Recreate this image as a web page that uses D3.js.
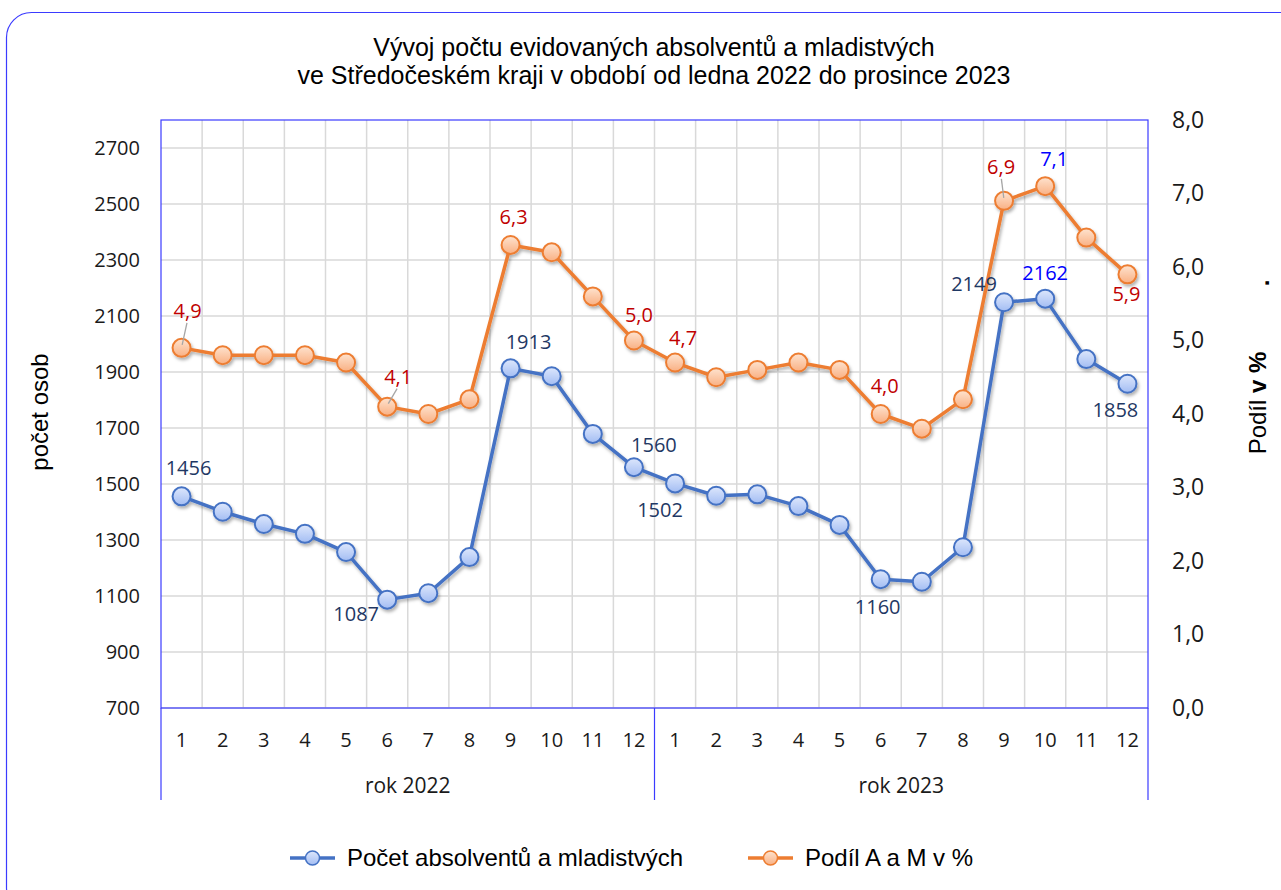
<!DOCTYPE html>
<html>
<head>
<meta charset="utf-8">
<script src="https://cdn.jsdelivr.net/npm/d3@7"></script>
<style>
  body { margin: 0; background: #fff; }
  svg { display: block; }
</style>
</head>
<body>
<div id="chart"></div>
<script>
// data
var months = [1,2,3,4,5,6,7,8,9,10,11,12, 1,2,3,4,5,6,7,8,9,10,11,12];
var years = ["rok 2022", "rok 2023"];
var pocet = [1456,1401,1357,1322,1257,1087,1110,1239,1913,1885,1679,1560,
             1502,1458,1463,1421,1354,1160,1151,1274,2149,2162,1946,1858];
var podil = [4.9,4.8,4.8,4.8,4.7,4.1,4.0,4.2,6.3,6.2,5.6,5.0,
             4.7,4.5,4.6,4.7,4.6,4.0,3.8,4.2,6.9,7.1,6.4,5.9];
var leftTicks = [700,900,1100,1300,1500,1700,1900,2100,2300,2500,2700];
var rightTicks = [0,1,2,3,4,5,6,7,8];

// which points carry a data label, and where the label sits
var pocetLabels = [
    {i: 0, dx: 7, dy: -28}, {i: 5, dx: -31, dy: 14}, {i: 8, dx: 18, dy: -26},
    {i: 11, dx: 20, dy: -22}, {i: 12, dx: -15, dy: 27}, {i: 17, dx: -3, dy: 28},
    {i: 20, dx: -30, dy: -18}, {i: 21, dx: 0, dy: -26, color: "#0000ff"},
    {i: 23, dx: -12, dy: 26}
];
var podilLabels = [
    {i: 0, dx: 6, dy: -37, leader: true}, {i: 5, dx: 11, dy: -30, leader: true},
    {i: 8, dx: 3, dy: -28}, {i: 11, dx: 5, dy: -26}, {i: 12, dx: 8, dy: -25},
    {i: 17, dx: 4, dy: -28}, {i: 20, dx: -3, dy: -34, leader: true},
    {i: 21, dx: 9, dy: -27, color: "#0000ff"}, {i: 23, dx: -1, dy: 20}
];

(function() {
var W = 1281, H = 890;
var pLeft = 161, pRight = 1148, pTop = 120, pBottom = 708;
var blue = "#4472c4", orange = "#ed7d31", frame = "#3b3bff";
var numFont = "'Open Sans', sans-serif", txtFont = "'Liberation Sans', Arial, sans-serif";

var svg = d3.select("#chart")
    .append("svg")
    .attr("width", W)
    .attr("height", H);

var defs = svg.append("defs");
var shadow = defs.append("filter").attr("id", "shadow")
    .attr("x", "-20%").attr("y", "-20%").attr("width", "140%").attr("height", "140%");
shadow.append("feDropShadow")
    .attr("dx", 1.5).attr("dy", 2.5).attr("stdDeviation", 1.6)
    .attr("flood-color", "#000").attr("flood-opacity", 0.3);

function grad(id, c1, c2) {
    var g = defs.append("linearGradient").attr("id", id)
        .attr("x1", 0).attr("y1", 0).attr("x2", 0).attr("y2", 1);
    g.append("stop").attr("offset", "0%").attr("stop-color", c1);
    g.append("stop").attr("offset", "100%").attr("stop-color", c2);
}
grad("gBlue", "#dde7fc", "#a3bdf3");
grad("gOrange", "#fee3cf", "#f9b083");

// outer rounded frame
svg.append("rect")
    .attr("x", 6.5).attr("y", 12.5)
    .attr("width", 1300).attr("height", 900)
    .attr("rx", 25).attr("ry", 25)
    .style("fill", "none")
    .style("stroke", frame)
    .style("stroke-width", 1.2);

// scales
var x = d3.scaleBand().domain(d3.range(months.length)).range([pLeft, pRight]);
var cx = function(i) { return x(i) + x.bandwidth() / 2; };
var yL = d3.scaleLinear().domain([700, 2800]).range([pBottom, pTop]);
var yR = d3.scaleLinear().domain([0, 8]).range([pBottom, pTop]);

// gridlines
svg.append("g").selectAll("line")
    .data(leftTicks)
    .enter().append("line")
    .attr("x1", pLeft).attr("x2", pRight)
    .attr("y1", function(d) { return yL(d); })
    .attr("y2", function(d) { return yL(d); })
    .style("stroke", "#d9d9d9").style("stroke-width", 1.5);
svg.append("g").selectAll("line")
    .data(d3.range(1, months.length))
    .enter().append("line")
    .attr("x1", function(d) { return x(d); })
    .attr("x2", function(d) { return x(d); })
    .attr("y1", pTop).attr("y2", pBottom)
    .style("stroke", "#d9d9d9").style("stroke-width", 1.5);

// plot frame
svg.append("rect")
    .attr("x", pLeft).attr("y", pTop)
    .attr("width", pRight - pLeft).attr("height", pBottom - pTop)
    .style("fill", "none").style("stroke", frame).style("stroke-width", 1.2);

// category axis: separators below plot
var seps = [0, 12, 24];
svg.append("g").selectAll("line")
    .data(seps)
    .enter().append("line")
    .attr("x1", function(d) { return d < months.length ? x(d) : pRight; })
    .attr("x2", function(d) { return d < months.length ? x(d) : pRight; })
    .attr("y1", pBottom).attr("y2", 800)
    .style("stroke", frame).style("stroke-width", 1.2);

svg.append("g").selectAll("text")
    .data(months)
    .enter().append("text")
    .attr("x", function(d, i) { return cx(i); })
    .attr("y", 747)
    .attr("text-anchor", "middle")
    .style("font-family", numFont).style("font-size", "20px").style("fill", "#1a1a1a")
    .text(function(d) { return d; });

svg.append("g").selectAll("text")
    .data(years)
    .enter().append("text")
    .attr("x", function(d, i) { return (x(i * 12) + (i === 1 ? pRight : x(12))) / 2; })
    .attr("y", 793)
    .attr("text-anchor", "middle")
    .style("font-family", numFont).style("font-size", "21px").style("fill", "#1a1a1a")
    .text(function(d) { return d; });

// value axes
var axL = svg.append("g")
    .attr("transform", "translate(" + pLeft + ",0)")
    .call(d3.axisLeft(yL).tickValues(leftTicks).tickSize(0).tickPadding(21)
        .tickFormat(d3.format("d")));
var axR = svg.append("g")
    .attr("transform", "translate(" + pRight + ",0)")
    .call(d3.axisRight(yR).tickValues(rightTicks).tickSize(0).tickPadding(24)
        .tickFormat(function(d) { return d.toFixed(1).replace(".", ","); }));
[axL, axR].forEach(function(ax) {
    ax.select(".domain").remove();
    ax.selectAll("text")
        .style("font-family", numFont).style("fill", "#1a1a1a");
});
axL.selectAll("text").style("font-size", "20px");
axR.selectAll("text").style("font-size", "23px");

// axis titles
svg.append("text")
    .attr("transform", "translate(48,412) rotate(-90)")
    .attr("text-anchor", "middle")
    .style("font-family", txtFont).style("font-size", "24px")
    .text("počet osob");
var rt = svg.append("text")
    .attr("transform", "translate(1266,403) rotate(-90)")
    .attr("text-anchor", "middle")
    .style("font-family", txtFont).style("font-size", "24px");
rt.append("tspan").text("Podíl ");
rt.append("tspan").style("font-weight", "bold").text("v %");
svg.append("text")
    .attr("transform", "translate(1269,283) rotate(-90)")
    .attr("text-anchor", "middle")
    .style("font-family", txtFont).style("font-size", "24px").style("font-weight", "bold")
    .text(".");

// title
svg.append("text")
    .attr("x", 654).attr("y", 56)
    .attr("text-anchor", "middle")
    .style("font-family", txtFont).style("font-size", "25px")
    .text("Vývoj počtu evidovaných absolventů a mladistvých");
svg.append("text")
    .attr("x", 654).attr("y", 84)
    .attr("text-anchor", "middle")
    .style("font-family", txtFont).style("font-size", "25px")
    .text("ve Středočeském kraji v období od ledna 2022 do prosince 2023");

// series
function drawSeries(values, yScale, color, fillId) {
    var g = svg.append("g").attr("filter", "url(#shadow)");
    var line = d3.line()
        .x(function(d, i) { return cx(i); })
        .y(function(d) { return yScale(d); });
    g.append("path")
        .datum(values)
        .attr("d", line)
        .style("fill", "none").style("stroke", color)
        .style("stroke-width", 3.5).style("stroke-linejoin", "round");
    g.selectAll("circle")
        .data(values)
        .enter().append("circle")
        .attr("cx", function(d, i) { return cx(i); })
        .attr("cy", function(d) { return yScale(d); })
        .attr("r", 9)
        .style("fill", "url(#" + fillId + ")")
        .style("stroke", color).style("stroke-width", 2);
}
drawSeries(pocet, yL, blue, "gBlue");
drawSeries(podil, yR, orange, "gOrange");

// data labels
function drawLabels(cfg, values, yScale, color, fmt) {
    var g = svg.append("g");
    cfg.forEach(function(c) {
        var px = cx(c.i), py = yScale(values[c.i]);
        if (c.leader) {
            g.append("line")
                .attr("x1", px + 0.1 * c.dx).attr("y1", py - 3)
                .attr("x2", px + c.dx * 0.9).attr("y2", py + c.dy + 12)
                .style("stroke", "#a6a6a6").style("stroke-width", 1.3);
        }
        g.append("text")
            .attr("x", px + c.dx).attr("y", py + c.dy)
            .attr("dy", "0.35em")
            .attr("text-anchor", "middle")
            .style("font-family", numFont).style("font-size", "20px")
            .style("fill", c.color || color)
            .text(fmt(values[c.i]));
    });
}
drawLabels(pocetLabels, pocet, yL, "#1f3864", function(d) { return d; });
drawLabels(podilLabels, podil, yR, "#c00000", function(d) { return d.toFixed(1).replace(".", ","); });

// legend
var legend = [
    {name: "Počet absolventů a mladistvých", color: blue, fill: "gBlue", x: 290},
    {name: "Podíl A a M v %", color: orange, fill: "gOrange", x: 748}
];
var lg = svg.append("g").selectAll("g")
    .data(legend)
    .enter().append("g")
    .attr("transform", function(d) { return "translate(" + d.x + ",858)"; });
lg.append("line")
    .attr("x1", 0).attr("x2", 45)
    .style("stroke", function(d) { return d.color; }).style("stroke-width", 3.5);
lg.append("circle")
    .attr("cx", 22.5).attr("r", 7)
    .style("fill", function(d) { return "url(#" + d.fill + ")"; })
    .style("stroke", function(d) { return d.color; }).style("stroke-width", 1.5);
lg.append("text")
    .attr("x", 57).attr("dy", "0.35em")
    .style("font-family", txtFont).style("font-size", "24px")
    .text(function(d) { return d.name; });
})();
</script>
</body>
</html>
